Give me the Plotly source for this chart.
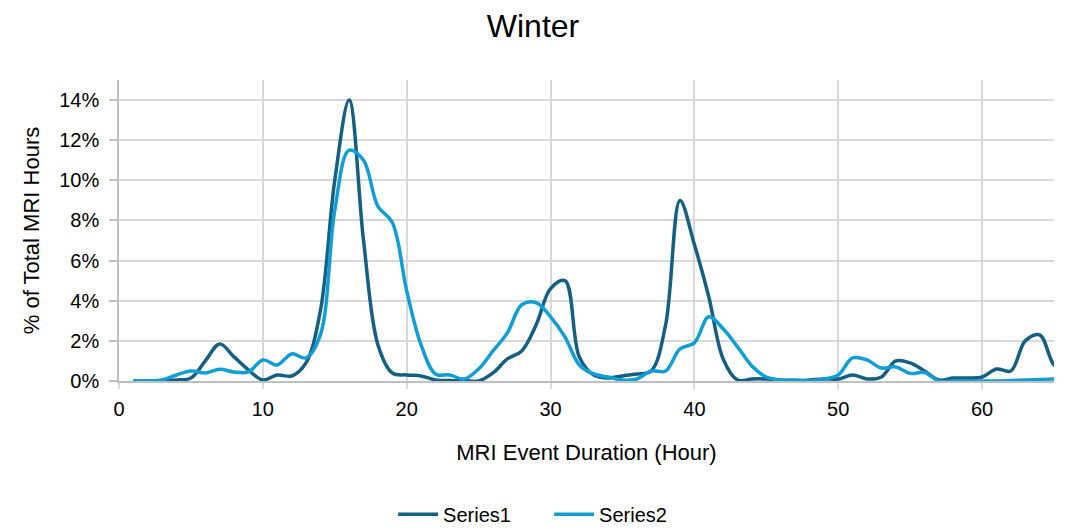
import plotly.graph_objects as go

hours = list(range(1, 67))

series1_pct = [
    0.0, 0.0, 0.0, 0.05, 0.15, 1.0, 1.85, 1.2, 0.55, 0.05,
    0.3, 0.25, 0.9, 3.5, 10.0, 14.0, 7.0, 1.8, 0.4, 0.3,
    0.25, 0.05, 0.02, 0.02, 0.0, 0.4, 1.1, 1.5, 2.8, 4.6,
    5.0, 1.2, 0.3, 0.15, 0.25, 0.35, 0.5, 2.8, 9.0, 6.8,
    4.2, 1.1, 0.05, 0.1, 0.1, 0.05, 0.02, 0.05, 0.1, 0.1,
    0.3, 0.1, 0.2, 1.0, 0.9, 0.5, 0.05, 0.15, 0.15, 0.2,
    0.6, 0.5, 2.0, 2.3, 0.8, 0.3,
]

series2_pct = [
    0.0, 0.0, 0.05, 0.3, 0.5, 0.4, 0.58, 0.45, 0.45, 1.05,
    0.8, 1.35, 1.15, 2.3, 8.5, 11.5, 11.0, 8.7, 7.9, 4.5,
    1.8, 0.35, 0.3, 0.1, 0.6, 1.5, 2.4, 3.8, 3.9, 3.2,
    2.2, 0.8, 0.35, 0.2, 0.05, 0.1, 0.5, 0.5, 1.6, 1.9,
    3.2, 2.6, 1.7, 0.75, 0.2, 0.05, 0.05, 0.0, 0.1, 0.3,
    1.15, 1.05, 0.65, 0.7, 0.38, 0.42, 0.0, 0.0, 0.0, 0.0,
    0.0, 0.02, 0.05, 0.08, 0.1, 0.1,
]

y_ticks = [0, 0.02, 0.04, 0.06, 0.08, 0.10, 0.12, 0.14]
x_ticks = [0, 10, 20, 30, 40, 50, 60]

FONT = "Liberation Sans, Arial, sans-serif"

fig = go.Figure()
fig.add_trace(go.Scatter(
    x=hours, y=[v / 100 for v in series1_pct], name="Series1", mode="lines",
    line=dict(color="#156082", width=3.5, shape="spline", smoothing=1.0),
))
fig.add_trace(go.Scatter(
    x=hours, y=[v / 100 for v in series2_pct], name="Series2", mode="lines",
    line=dict(color="#0F9ED5", width=3.5, shape="spline", smoothing=1.0),
))

fig.update_layout(
    width=1066, height=528,
    margin=dict(l=119, r=12, t=80, b=147),
    paper_bgcolor="white", plot_bgcolor="white",
    font=dict(family=FONT, color="#000000", size=20),
    title=dict(text="Winter", x=0.5, xanchor="center", y=0.952, yanchor="middle",
               font=dict(family=FONT, size=32, color="#000000")),
    showlegend=True,
    legend=dict(orientation="h", x=0.46, xanchor="center", yref="container",
                y=0.026, yanchor="middle", font=dict(size=20, family=FONT),
                itemwidth=40, entrywidth=101, entrywidthmode="pixels",
                traceorder="normal"),
    xaxis=dict(
        range=[0, 65], tickvals=x_ticks, showgrid=True, gridcolor="#d9d9d9", gridwidth=1.5,
        showline=True, linecolor="#bfbfbf", linewidth=1.5, ticks="outside", ticklen=6,
        tickcolor="#d9d9d9", tickwidth=1.5, zeroline=False,
        tickfont=dict(size=20, family=FONT), ticklabelstandoff=3,
        title=dict(text="MRI Event Duration (Hour)", font=dict(size=22, family=FONT), standoff=26),
    ),
    yaxis=dict(
        range=[0, 0.15], tickvals=y_ticks, tickformat=".0%", showgrid=True, gridcolor="#d9d9d9",
        gridwidth=1.5, showline=True, linecolor="#bfbfbf", linewidth=1.5, ticks="outside",
        ticklen=8, tickcolor="#bfbfbf", tickwidth=1.5, zeroline=False,
        tickfont=dict(size=20, family=FONT), ticklabelstandoff=6,
        title=dict(text="% of Total MRI Hours", font=dict(size=22, family=FONT), standoff=14),
    ),
)

fig.write_html("out.html")
